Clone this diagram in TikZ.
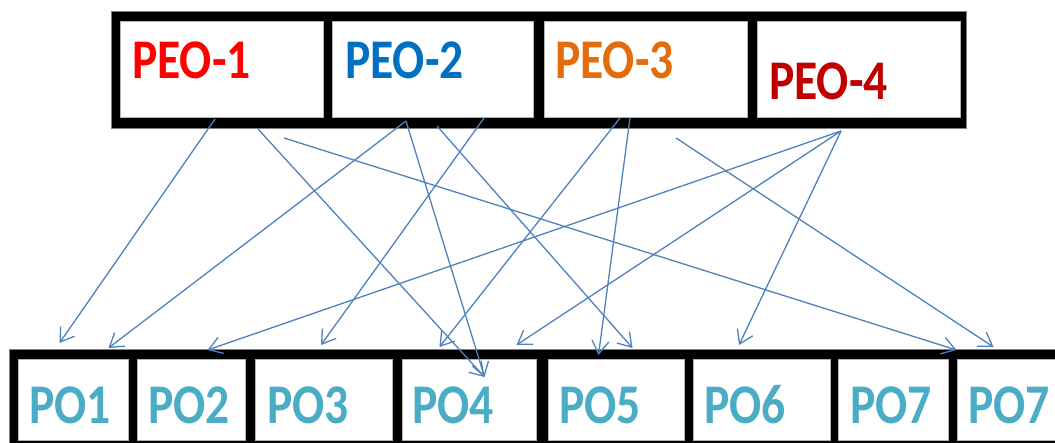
\documentclass[tikz,border=0pt]{standalone}
\usepackage{fontspec}
\setmainfont{Carlito}[FakeStretch=0.85]
\usepackage{tikz}
\usetikzlibrary{arrows.meta}
\usetikzlibrary{positioning}
\definecolor{linkblue}{RGB}{79,129,189}
\definecolor{peoblue}{RGB}{0,112,192}
\definecolor{peoorange}{RGB}{228,108,10}
\definecolor{peodark}{RGB}{192,0,0}
\definecolor{poaqua}{RGB}{75,172,198}
\tikzstyle{frame}=[draw=gray,fill=black,line width=1pt,inner sep=0,anchor=north west]
\tikzstyle{cell}=[draw=gray!60,fill=white,line width=1pt,inner sep=0,anchor=north west]
\tikzstyle{PEOcell}=[cell,minimum width=203pt,minimum height=96pt]
\tikzstyle{POcell}=[cell,minimum height=81pt]
\tikzstyle{lbl}=[anchor=base west,inner sep=0,font=\fontsize{56}{60}\selectfont\bfseries]
\tikzstyle{POlbl}=[lbl,text=poaqua]
\tikzstyle{links}=[every edge/.style={draw=linkblue,line width=1.3pt,
                -{Straight Barb[length=13pt,width=17pt]}}]

\begin{document}
\begin{tikzpicture}[x=1pt,y=-1pt,links]
\useasboundingbox (0,0) rectangle (1055,442);
\clip (0,0) rectangle (1055,442);

% frames
\node[frame,minimum width=855pt,minimum height=117pt] (topbar) at (111,11) {};
\node[frame,minimum width=1066pt,minimum height=111pt] (botbar) at (9,349) {};

% PEO row
\node[PEOcell] (peo1) at (120,21) {};
\node[PEOcell,minimum width=201pt,right=8pt of peo1] (peo2) {};
\node[PEOcell,right=10pt of peo2] (peo3) {};
\node[PEOcell,right=9pt of peo3] (peo4) {};

\node[lbl,text=red] (peo1l) at ([shift={(12,57)}]peo1.north west) {PEO-1};
\node[lbl,text=peoblue] (peo2l) at ([shift={(13,57)}]peo2.north west) {PEO-2};
\node[lbl,text=peoorange] (peo3l) at ([shift={(11,57)}]peo3.north west) {PEO-3};
\node[lbl,text=peodark] (peo4l) at ([shift={(12,78)}]peo4.north west) {PEO-4};

% PO row
\node[POcell,minimum width=110pt] (po1) at (18,359) {};
\node[POcell,minimum width=108pt,right=8pt of po1] (po2) {};
\node[POcell,minimum width=137pt,right=9pt of po2] (po3) {};
\node[POcell,minimum width=134pt,right=9pt of po3] (po4) {};
\node[POcell,minimum width=136pt,right=11pt of po4] (po5) {};
\node[POcell,minimum width=137pt,right=8pt of po5] (po6) {};
\node[POcell,minimum width=110pt,right=7pt of po6] (po7) {};
\node[POcell,minimum width=112pt,right=8pt of po7] (po7b) {};

\node[POlbl] (po1l) at ([shift={(11,64)}]po1.north west) {PO1};
\node[POlbl] (po2l) at ([shift={(11,64)}]po2.north west) {PO2};
\node[POlbl] (po3l) at ([shift={(12,64)}]po3.north west) {PO3};
\node[POlbl] (po4l) at ([shift={(10,64)}]po4.north west) {PO4};
\node[POlbl] (po5l) at ([shift={(11,64)}]po5.north west) {PO5};
\node[POlbl] (po6l) at ([shift={(11,64)}]po6.north west) {PO6};
\node[POlbl] (po7l) at ([shift={(12,64)}]po7.north west) {PO7};
\node[POlbl] (po7bl) at ([shift={(11,64)}]po7b.north west) {PO7};

\path
([shift={(-7,1)}]peo1.south) edge ([shift={(-14,-16)}]po1.north)
([shift={(36,11)}]peo1.south) edge ([shift={(15,18)}]po4.north)
([shift={(62,20)}]peo1.south) edge ([shift={(-57,-9)}]po7b.north)
([shift={(-27,3)}]peo2.south) edge ([shift={(35,-11)}]po1.north)
                              edge ([shift={(15,18)}]po4.north)
([shift={(4,8)}]peo2.south) edge ([shift={(16,-11)}]po5.north)
([shift={(51,0)}]peo2.south) edge ([shift={(-3,-14)}]po3.north)
([shift={(-26,0)}]peo3.south) edge ([shift={(-30,-12)}]po4.north)
([shift={(-16,0)}]peo3.south) edge ([shift={(-18,-4)}]po5.north)
([shift={(30,20)}]peo3.south) edge ([shift={(-20,-12)}]po7b.north)
([shift={(-18,13)}]peo4.south) edge ([shift={(16,-9)}]po2.north)
                               edge ([shift={(47,-14)}]po4.north)
                               edge ([shift={(-23,-14)}]po6.north)
;
\end{tikzpicture}
\end{document}
